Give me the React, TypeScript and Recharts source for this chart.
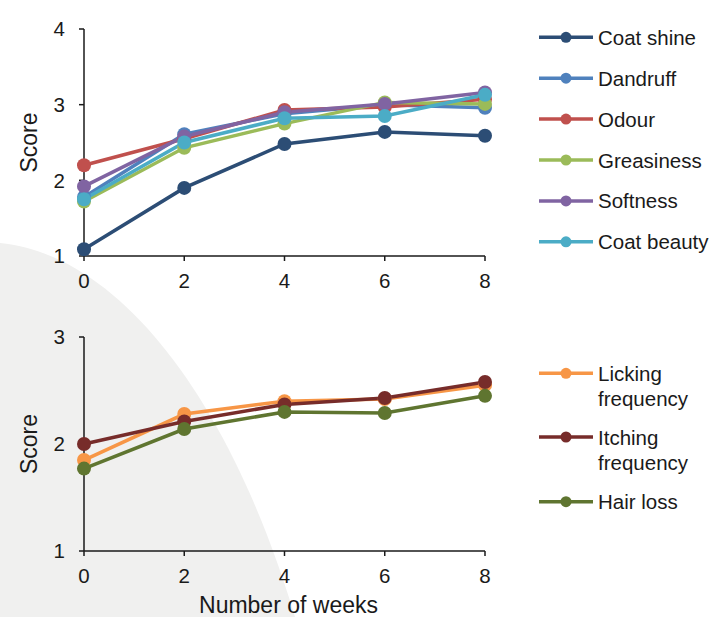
import React from 'react';
import { LineChart, Line, XAxis, YAxis, Legend, Label } from 'recharts';

// ---- data ----
const weeks = [0, 2, 4, 6, 8];
const weekTicks = [0, 2, 4, 6, 8];
const topTicks = [1, 2, 3, 4];
const bottomTicks = [1, 2, 3];

const coatShine = [1.09, 1.9, 2.48, 2.64, 2.59];
const dandruff = [1.78, 2.61, 2.88, 3.0, 2.96];
const odour = [2.2, 2.55, 2.93, 2.97, 3.07];
const greasiness = [1.72, 2.43, 2.75, 3.03, 3.01];
const softness = [1.92, 2.58, 2.9, 3.01, 3.16];
const coatBeauty = [1.75, 2.5, 2.82, 2.85, 3.13];

const licking = [1.85, 2.28, 2.4, 2.42, 2.55];
const itching = [2.0, 2.21, 2.37, 2.43, 2.58];
const hairLoss = [1.77, 2.14, 2.3, 2.29, 2.45];

type Series = { key: string; name: string; color: string; values: number[]; lines: string[] };

const topSeries: Series[] = [
  { key: 'coatShine', name: 'Coat shine', color: '#2C4D75', values: coatShine, lines: ['Coat shine'] },
  { key: 'dandruff', name: 'Dandruff', color: '#4F81BD', values: dandruff, lines: ['Dandruff'] },
  { key: 'odour', name: 'Odour', color: '#C0504D', values: odour, lines: ['Odour'] },
  { key: 'greasiness', name: 'Greasiness', color: '#9BBB59', values: greasiness, lines: ['Greasiness'] },
  { key: 'softness', name: 'Softness', color: '#8064A2', values: softness, lines: ['Softness'] },
  { key: 'coatBeauty', name: 'Coat beauty', color: '#4BACC6', values: coatBeauty, lines: ['Coat beauty'] },
];

const bottomSeries: Series[] = [
  { key: 'licking', name: 'Licking frequency', color: '#F79646', values: licking, lines: ['Licking', 'frequency'] },
  { key: 'itching', name: 'Itching frequency', color: '#772C2A', values: itching, lines: ['Itching', 'frequency'] },
  { key: 'hairLoss', name: 'Hair loss', color: '#5F7530', values: hairLoss, lines: ['Hair loss'] },
];

const buildData = (series: Series[]) =>
  weeks.map((w, i) => {
    const row: Record<string, number> = { week: w };
    series.forEach((s) => {
      row[s.key] = s.values[i];
    });
    return row;
  });

const topData = buildData(topSeries);
const bottomData = buildData(bottomSeries);

// ---- styling ----
const FONT = '"Liberation Sans", Arial, Helvetica, sans-serif';
const INK = '#1a1a1a';
const tickStyle = { fill: INK, fontSize: 20.5, fontFamily: FONT };
const axisLine = { stroke: INK, strokeWidth: 1.5 };

const makeLegend = (series: Series[], rows: number[][]) => (props: any) => {
  const payload: any[] = props.payload || [];
  return (
    <svg width={190} height={240} style={{ overflow: 'visible', display: 'block' }}>
      {series.map((s, i) => {
        const entry = payload.find((p) => p.dataKey === s.key || p.value === s.name);
        const color = entry ? entry.color : s.color;
        const ys = rows[i];
        return (
          <g key={s.key}>
            <line x1={9} x2={63} y1={ys[0]} y2={ys[0]} stroke={color} strokeWidth={3.5} />
            <circle cx={36} cy={ys[0]} r={5.5} fill={color} />
            {s.lines.map((t, j) => (
              <text
                key={j}
                x={68}
                y={ys[j]}
                dominantBaseline="central"
                fontSize={20.5}
                fontFamily={FONT}
                fill={INK}
              >
                {t}
              </text>
            ))}
          </g>
        );
      })}
    </svg>
  );
};

const scoreTitle = (fallbackY: number) => (props: any) => {
  const vb = props.viewBox || {};
  const cx = 29;
  const cy = vb.y !== undefined ? vb.y + vb.height / 2 : fallbackY;
  return (
    <text
      x={cx}
      y={cy}
      transform={`rotate(-90 ${cx} ${cy})`}
      textAnchor="middle"
      dominantBaseline="central"
      fontSize={23}
      fontFamily={FONT}
      fill={INK}
    >
      Score
    </text>
  );
};

const weeksTitle = (props: any) => {
  const vb = props.viewBox || { x: 84, y: 251, width: 401, height: 50 };
  const cx = vb.x + vb.width / 2 + 4;
  const cy = vb.y + 62;
  return (
    <text x={cx} y={cy} textAnchor="middle" fontSize={23} fontFamily={FONT} fill={INK}>
      Number of weeks
    </text>
  );
};

const topRows = [0, 1, 2, 3, 4, 5].map((i) => [20.3 + i * 40.9]);
const bottomRows = [
  [73.3, 98],
  [137, 162],
  [201.7],
];

export default function App() {
  return (
    <div
      style={{
        position: 'absolute',
        left: 0,
        top: 0,
        width: 714,
        height: 617,
        overflow: 'hidden',
        background: '#ffffff',
      }}
    >
      <svg width={714} height={617} style={{ position: 'absolute', left: 0, top: 0 }}>
        <path d="M0,243 C120,255 230,400 295,617 L0,617 Z" fill="#f0f0ef" />
      </svg>

      <div style={{ position: 'absolute', left: 0, top: 0 }}>
        <LineChart
          width={714}
          height={300}
          data={topData}
          margin={{ top: 29, right: 229, bottom: 14, left: 24 }}
          style={{ fontFamily: FONT }}
        >
          <XAxis
            dataKey="week"
            type="number"
            domain={[0, 8]}
            ticks={weekTicks}
            height={30}
            tickSize={5}
            tickMargin={12.5}
            tick={tickStyle}
            axisLine={axisLine}
            tickLine={axisLine}
          />
          <YAxis
            type="number"
            domain={[1, 4]}
            ticks={topTicks}
            width={60}
            tickSize={5}
            tickMargin={14}
            tick={tickStyle}
            axisLine={axisLine}
            tickLine={axisLine}
          >
            <Label content={scoreTitle(142.5)} />
          </YAxis>
          <Legend
            layout="vertical"
            align="center"
            verticalAlign="middle"
            wrapperStyle={{ left: 530, top: 17, width: 190 }}
            content={makeLegend(topSeries, topRows)}
          />
          {topSeries.map((s) => (
            <Line
              key={s.key}
              dataKey={s.key}
              name={s.name}
              type="linear"
              stroke={s.color}
              strokeWidth={3.5}
              dot={{ r: 7, fill: s.color, stroke: s.color, strokeWidth: 0 }}
              activeDot={false}
              isAnimationActive={false}
            />
          ))}
        </LineChart>
      </div>

      <div style={{ position: 'absolute', left: 0, top: 300 }}>
        <LineChart
          width={714}
          height={317}
          data={bottomData}
          margin={{ top: 37, right: 229, bottom: 16, left: 24 }}
          style={{ fontFamily: FONT }}
        >
          <XAxis
            dataKey="week"
            type="number"
            domain={[0, 8]}
            ticks={weekTicks}
            height={50}
            tickSize={5}
            tickMargin={12.5}
            tick={tickStyle}
            axisLine={axisLine}
            tickLine={axisLine}
          >
            <Label content={weeksTitle} />
          </XAxis>
          <YAxis
            type="number"
            domain={[1, 3]}
            ticks={bottomTicks}
            width={60}
            tickSize={5}
            tickMargin={14}
            tick={tickStyle}
            axisLine={axisLine}
            tickLine={axisLine}
          >
            <Label content={scoreTitle(144)} />
          </YAxis>
          <Legend
            layout="vertical"
            align="center"
            verticalAlign="middle"
            wrapperStyle={{ left: 530, top: 0, width: 190 }}
            content={makeLegend(bottomSeries, bottomRows)}
          />
          {bottomSeries.map((s) => (
            <Line
              key={s.key}
              dataKey={s.key}
              name={s.name}
              type="linear"
              stroke={s.color}
              strokeWidth={3.5}
              dot={{ r: 7, fill: s.color, stroke: s.color, strokeWidth: 0 }}
              activeDot={false}
              isAnimationActive={false}
            />
          ))}
        </LineChart>
      </div>
    </div>
  );
}
